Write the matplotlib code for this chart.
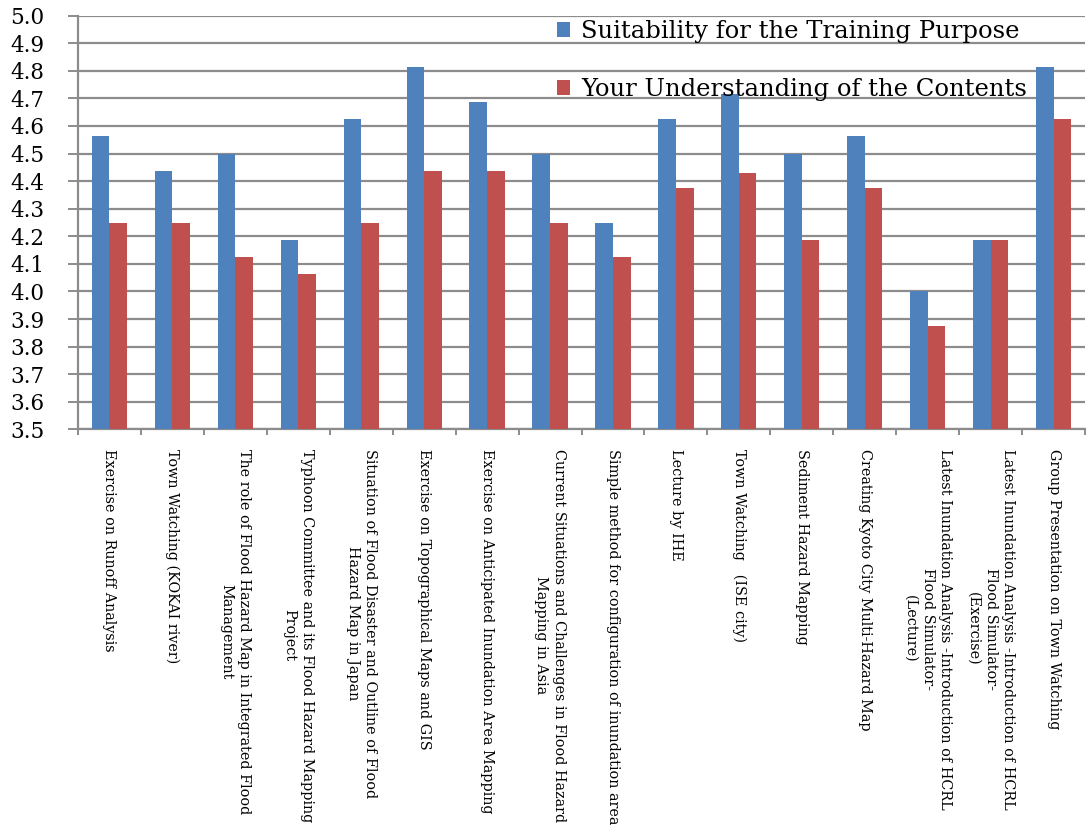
import matplotlib
matplotlib.use("Agg")
import matplotlib.pyplot as plt
import numpy as np

plt.rcParams["font.family"] = ["DejaVu Serif", "DejaVu Sans"]

categories = [
    "Exercise on Runoff Analysis",
    "Town Watching (KOKAI river)",
    "The role of Flood Hazard Map in Integrated Flood\nManagement",
    "Typhoon Committee and its Flood Hazard Mapping\nProject",
    "Situation of Flood Disaster and Outline of Flood\nHazard Map in Japan",
    "Exercise on Topographical Maps and GIS",
    "Exercise on Anticipated Inundation Area Mapping",
    "Current Situations and Challenges in Flood Hazard\nMapping in Asia",
    "Simple method for configuration of inundation area",
    "Lecture by IHE",
    "Town Watching   (ISE city)",
    "Sediment Hazard Mapping",
    "Creating Kyoto City Multi-Hazard Map",
    "Latest Inundation Analysis -Introduction of HCRL\nFlood Simulator-\n(Lecture)",
    "Latest Inundation Analysis -Introduction of HCRL\nFlood Simulator-\n(Exercise)",
    "Group Presentation on Town Watching",
]

suitability = [4.5625, 4.4375, 4.5, 4.1875, 4.625, 4.8125, 4.6875, 4.5,
               4.25, 4.625, 4.7143, 4.5, 4.5625, 4.0, 4.1875, 4.8125]
understanding = [4.25, 4.25, 4.125, 4.0625, 4.25, 4.4375, 4.4375, 4.25,
                 4.125, 4.375, 4.4286, 4.1875, 4.375, 3.875, 4.1875, 4.625]
series_names = ["Suitability for the Training Purpose",
                "Your Understanding of the Contents"]
yticks = [round(3.5 + 0.1 * i, 1) for i in range(16)]

blue = "#4F81BD"
red = "#C0504D"
grid_c = "#8C8C8C"

fig = plt.figure(figsize=(10.89, 8.34), dpi=100)
ax = fig.add_axes([78 / 1089, 1 - 429.3 / 834, (1085 - 78) / 1089, (429.3 - 15.7) / 834])

n = len(categories)
x = np.arange(n)
w = 0.28
ax.bar(x - w / 2, suitability, width=w, color=blue, label=series_names[0], zorder=3)
ax.bar(x + w / 2, understanding, width=w, color=red, label=series_names[1], zorder=3)

ax.set_xlim(-0.5, n - 0.5)
ax.set_ylim(3.5, 5.0)
ax.set_yticks(yticks)
ax.set_yticklabels([f"{v:.1f}" for v in yticks], fontsize=15.5)
ax.yaxis.grid(True, color=grid_c, linewidth=1.6, zorder=0)
ax.set_axisbelow(True)

# major ticks at category boundaries, labels at centers
ax.set_xticks(np.arange(n + 1) - 0.5)
ax.set_xticklabels([])
ax.set_xticks(x, minor=True)
ax.set_xticklabels(categories, minor=True, rotation=270,
                   fontsize=10.4, ha="center", va="top", multialignment="center",
                   linespacing=1.3)
ax.tick_params(axis="x", which="major", length=4, width=1.4, color=grid_c, direction="out")
ax.tick_params(axis="x", which="minor", length=0, pad=14)
ax.tick_params(axis="y", length=7, width=1.4, color=grid_c, pad=17)

for s in ["top", "right"]:
    ax.spines[s].set_visible(False)
for s in ["left", "bottom"]:
    ax.spines[s].set_color(grid_c)
    ax.spines[s].set_linewidth(1.6)

leg = ax.legend(loc="upper left", bbox_to_anchor=(557 / 1089, 1 - 20 / 834),
                bbox_transform=fig.transFigure, frameon=False,
                prop={"size": 17.5}, handlelength=0.55,
                handleheight=0.55, handletextpad=0.45, labelspacing=1.45,
                borderpad=0, borderaxespad=0)
leg.set_zorder(5)

fig.savefig("out.png", dpi=100)
